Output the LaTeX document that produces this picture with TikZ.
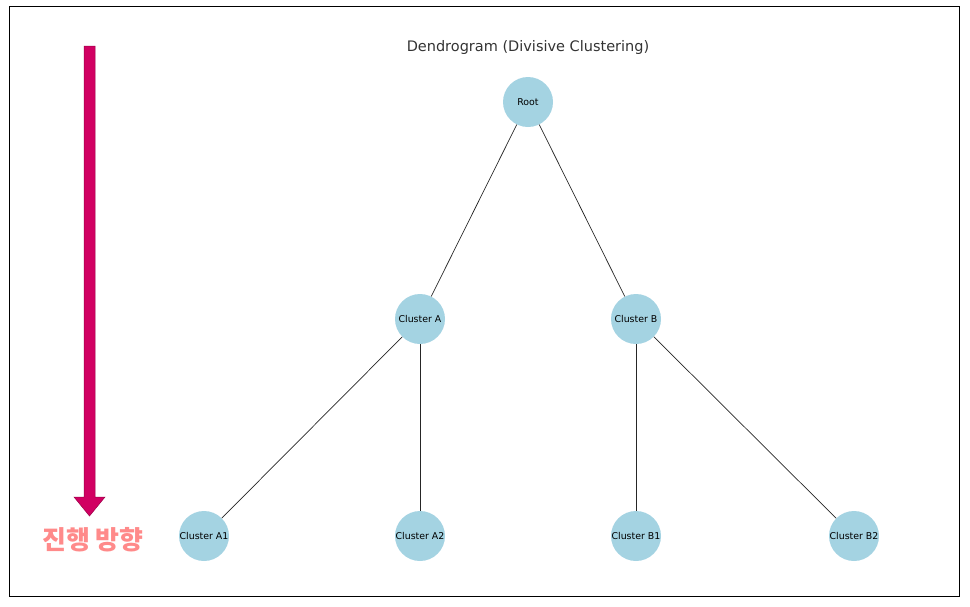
\documentclass[tikz,border=0pt]{standalone}
\usepackage{fontspec}
\setmainfont{DejaVu Sans}
\newfontfamily\krfont{Noto Sans CJK KR}
\definecolor{nodeblue}{HTML}{A4D3E2}
\definecolor{arrowred}{HTML}{D10062}
\definecolor{arrowedge}{HTML}{9A0048}
\definecolor{labelpink}{HTML}{FF8A8A}
\definecolor{titlegrey}{HTML}{333333}
\begin{document}
\begin{tikzpicture}[x=1pt,y=-1pt,
  cnode/.style={circle,fill=nodeblue,minimum size=50pt,inner sep=0pt,font=\fontsize{9.4}{11}\selectfont},
  edge/.style={draw=black!85,line width=0.7pt}]
\useasboundingbox (0,0) rectangle (970,606);
\draw[line width=1pt] (9.5,6) rectangle (959.5,596);
\node[font=\fontsize{14.5}{17}\selectfont,text=titlegrey] (title) at (528,47) {Dendrogram (Divisive Clustering)};
\node[cnode] (root) at (528,102) {Root};
\node[cnode] (A) at (420,319) {Cluster A};
\node[cnode] (B) at (636,319) {Cluster B};
\node[cnode] (A1) at (204,536) {Cluster A1};
\node[cnode] (A2) at (420,536) {Cluster A2};
\node[cnode] (B1) at (636,536) {Cluster B1};
\node[cnode] (B2) at (854,536) {Cluster B2};
\draw[edge] (root) -- (A);
\draw[edge] (root) -- (B);
\draw[edge] (A) -- (A1);
\draw[edge] (A) -- (A2);
\draw[edge] (B) -- (B1);
\draw[edge] (B) -- (B2);
\filldraw[fill=arrowred,draw=arrowedge,line width=0.5pt]
  (84,46) -- (95,46) -- (95,497) -- (105,497) -- (89.5,516) -- (74,497) -- (84,497) -- cycle;
\node[font=\krfont\bfseries\fontsize{26}{30}\selectfont,text=labelpink] (dir) at (93,540) {진행 방향};
\end{tikzpicture}
\end{document}
